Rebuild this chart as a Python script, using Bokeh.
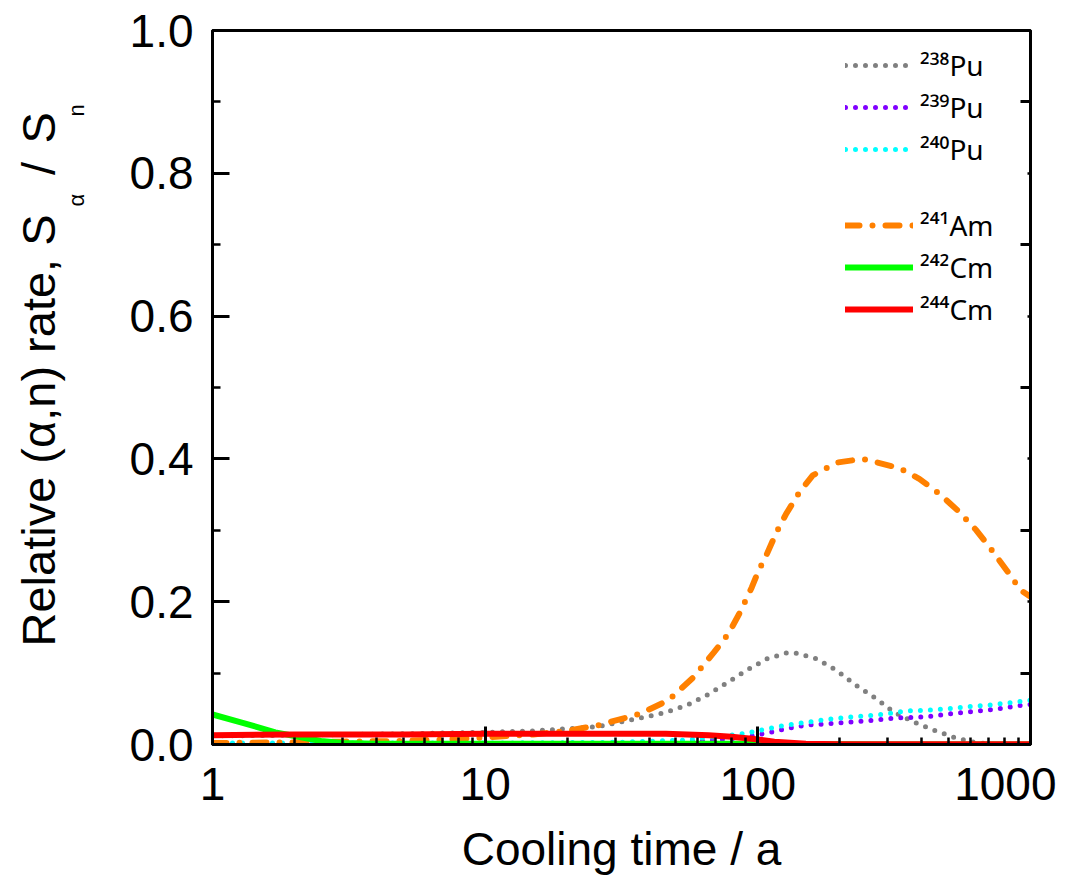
import math
from bokeh.plotting import figure
from bokeh.layouts import row
from bokeh.models import (Range1d, FixedTicker, LinearAxis, PrintfTickFormatter,
                          Legend, LegendItem)
from bokeh.core.properties import value
from bokeh.embed import file_html
from bokeh.resources import INLINE

# ---------------- data ----------------
t_pu238 = [1, 2, 5, 10, 15, 20, 26, 36, 46, 55, 65, 76, 91, 108, 127, 138, 164,
           194, 229, 272, 316, 376, 443, 525, 622, 750, 1000]
v_pu238 = [0.012, 0.013, 0.015, 0.017, 0.019, 0.022, 0.025, 0.036, 0.045, 0.055,
           0.069, 0.085, 0.104, 0.120, 0.128, 0.128, 0.120, 0.104, 0.083, 0.064,
           0.045, 0.031, 0.020, 0.010, 0.003, 0.0, 0.0]

t_pu239 = [1, 10, 30, 50, 70, 85, 99, 127, 150, 194, 250, 322, 417, 535, 694, 935, 1000]
v_pu239 = [0.001, 0.001, 0.002, 0.003, 0.006, 0.009, 0.013, 0.022, 0.027, 0.030,
           0.033, 0.037, 0.039, 0.044, 0.048, 0.055, 0.056]

t_pu240 = [1, 10, 30, 53, 66, 76, 91, 108, 127, 150, 178, 211, 250, 297, 352, 417,
           494, 586, 694, 822, 1000]
v_pu240 = [0.002, 0.002, 0.003, 0.006, 0.010, 0.012, 0.016, 0.022, 0.027, 0.031,
           0.035, 0.038, 0.040, 0.043, 0.047, 0.048, 0.050, 0.053, 0.055, 0.058, 0.062]

t_am241 = [1, 2, 3, 5, 7, 10, 15, 20, 26, 37, 47, 58, 69, 78, 86, 95, 100, 108, 117,
           127, 142, 159, 196, 242, 274, 331, 391, 464, 540, 633, 722, 836, 920, 1000]
v_am241 = [0.002, 0.003, 0.004, 0.005, 0.007, 0.010, 0.014, 0.019, 0.027, 0.043,
           0.062, 0.094, 0.129, 0.155, 0.185, 0.220, 0.241, 0.267, 0.297, 0.323,
           0.353, 0.377, 0.395, 0.400, 0.395, 0.387, 0.372, 0.351, 0.328, 0.300,
           0.272, 0.239, 0.216, 0.207]

t_cm242 = [1, 1.3, 1.7, 2, 2.5, 3, 4, 5, 10, 50, 100, 200, 300, 1000]
v_cm242 = [0.042, 0.030, 0.017, 0.012, 0.005, 0.002, 0.001, 0.001, 0.001, 0.001,
           0.001, 0.0005, 0.0, 0.0]

t_cm244 = [1, 2, 5, 10, 20, 30, 46, 66, 80, 95, 115, 150, 200, 1000]
v_cm244 = [0.013, 0.014, 0.014, 0.015, 0.015, 0.015, 0.015, 0.013, 0.011, 0.008,
           0.004, 0.001, 0.0005, 0.0003]

names = ["²³⁸Pu", "²³⁹Pu", "²⁴⁰Pu", "²⁴¹Am", "²⁴²Cm", "²⁴⁴Cm"]

x_major = [1, 10, 100, 1000]
x_minor = [2, 3, 4, 5, 6, 7, 8, 9, 20, 30, 40, 50, 60, 70, 80, 90,
           200, 300, 400, 500, 600, 700, 800, 900]
y_major = [0.0, 0.2, 0.4, 0.6, 0.8, 1.0]
y_minor = [0.1, 0.3, 0.5, 0.7, 0.9]

# y-axis title split into pieces (main text, subscripts)
ytitle_text = ["Relative (α,n) rate, S", "α", "/", "S", "n"]

FONT = "Liberation Sans"
H = 877
LW = 120          # width of the strip holding the y-axis title
TOP, BOTTOM = 30, 133

# ---------------- y-axis title strip ----------------
lab = figure(width=LW, height=H, x_range=Range1d(0, LW),
             y_range=Range1d(H - BOTTOM, TOP),
             output_backend="svg", toolbar_location=None,
             x_axis_location=None, y_axis_location=None,
             min_border_left=0, min_border_right=0,
             min_border_top=TOP, min_border_bottom=BOTTOM)
lab.outline_line_color = None
lab.xgrid.visible = False
lab.ygrid.visible = False
lab.background_fill_color = "white"
lab.border_fill_color = "white"

# (anchor x, start y from top, size, align)
pieces = [(38, 646, "47px", "left"), (76, 206, "22px", "left"),
          (38, 168, "47px", "center"), (38, 143, "47px", "left"),
          (76, 116, "22px", "left")]
for txt, (bx, ty, sz, al) in zip(ytitle_text, pieces):
    lab.text(x=[bx], y=[ty], text=[txt], angle=math.pi / 2,
             text_font=value(FONT), text_font_size=value(sz),
             text_align=al, text_baseline="alphabetic", text_color="black")

# ---------------- main figure ----------------
p = figure(width=1056 - LW, height=H, x_axis_type="log",
           x_range=Range1d(1, 1000), y_range=Range1d(0, 1),
           output_backend="svg", toolbar_location=None,
           min_border_left=212 - LW, min_border_right=26,
           min_border_top=TOP, min_border_bottom=BOTTOM)
p.background_fill_color = "white"
p.border_fill_color = "white"
p.xgrid.visible = False
p.ygrid.visible = False
p.outline_line_color = "black"
p.outline_line_width = 3

xa = p.xaxis[0]
xa.ticker = FixedTicker(ticks=x_major, minor_ticks=x_minor)
xa.formatter = PrintfTickFormatter(format="%d")
xa.axis_label = "Cooling time / a"
xa.axis_label_text_font = FONT
xa.axis_label_text_font_size = "46px"
xa.axis_label_text_font_style = "normal"
xa.axis_label_text_color = "black"
xa.axis_label_standoff = 20
xa.major_label_text_font = FONT
xa.major_label_text_font_size = "46px"
xa.major_label_text_color = "black"
xa.major_label_standoff = 23
xa.axis_line_width = 3
xa.major_tick_in = 18
xa.major_tick_out = 0
xa.minor_tick_in = 7
xa.minor_tick_out = 0
xa.major_tick_line_width = 3
xa.minor_tick_line_width = 2.5

ya = p.yaxis[0]
ya.ticker = FixedTicker(ticks=y_major, minor_ticks=y_minor)
ya.formatter = PrintfTickFormatter(format="%.1f")
ya.major_label_text_font = FONT
ya.major_label_text_font_size = "46px"
ya.major_label_text_color = "black"
ya.major_label_standoff = 19
ya.axis_line_width = 3
ya.major_tick_in = 17
ya.major_tick_out = 0
ya.minor_tick_in = 8
ya.minor_tick_out = 0
ya.major_tick_line_width = 3
ya.minor_tick_line_width = 2.5

ra = LinearAxis(ticker=FixedTicker(ticks=y_minor, minor_ticks=y_major),
                major_label_overrides={v: "" for v in y_minor},
                major_label_text_font_size="1px", major_label_standoff=0,
                axis_line_width=3, major_tick_in=10, major_tick_out=0,
                minor_tick_in=3, minor_tick_out=0,
                major_tick_line_width=3, minor_tick_line_width=2.5)
p.add_layout(ra, "right")

# ---------------- lines ----------------
r1 = p.line(t_pu238, v_pu238, line_color="#808080", line_width=5,
            line_dash="0 10", line_cap="round")
r2 = p.line(t_pu239, v_pu239, line_color="#8000ff", line_width=5,
            line_dash="0 10", line_cap="round")
r3 = p.line(t_pu240, v_pu240, line_color="#00ffff", line_width=5,
            line_dash="0 10", line_cap="round")
r4 = p.line(t_am241, v_am241, line_color="#ff8000", line_width=6,
            line_dash="14 13 0 13", line_cap="round")
r5 = p.line(t_cm242, v_cm242, line_color="#00ff00", line_width=6, line_cap="round")
r6 = p.line(t_cm244, v_cm244, line_color="#ff0000", line_width=6, line_cap="round")

def make_legend(items, loc):
    return Legend(items=items, location=loc, border_line_color=None,
                  background_fill_alpha=0, padding=0, margin=0, spacing=0,
                  glyph_width=68, glyph_height=42, label_height=42,
                  label_standoff=7, label_text_font="Noto Sans",
                  label_text_font_size="28px", label_text_color="black")

leg1 = make_legend([LegendItem(label=names[0], renderers=[r1]),
                    LegendItem(label=names[1], renderers=[r2]),
                    LegendItem(label=names[2], renderers=[r3])], (633, 574))
leg2 = make_legend([LegendItem(label=names[3], renderers=[r4]),
                    LegendItem(label=names[4], renderers=[r5]),
                    LegendItem(label=names[5], renderers=[r6])], (633, 414))
p.add_layout(leg1)
p.add_layout(leg2)

layout = row(lab, p, spacing=0)
open("out.html", "w").write(file_html(layout, INLINE))
